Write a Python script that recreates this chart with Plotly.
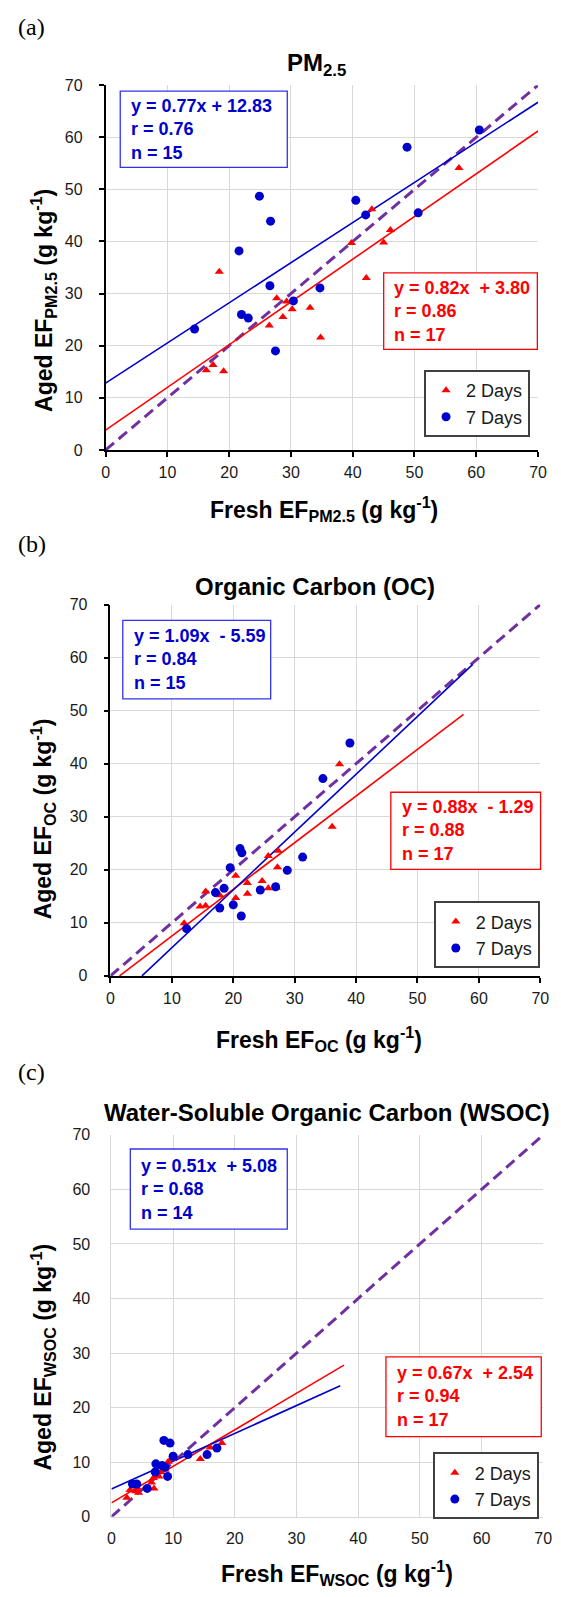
import plotly.graph_objects as go
import numpy as np

W, H = 561, 1597

# ---------------- data ----------------
# (a) PM2.5
pm_2d_x = [18.4, 16.3, 17.4, 19.1, 26.5, 27.7, 28.7, 29.3, 30.2, 33.1, 34.8, 39.8, 42.2, 43.1, 45.0, 46.1, 57.2]
pm_2d_y = [34.2, 15.3, 16.3, 15.1, 23.9, 29.1, 25.5, 28.5, 27.0, 27.3, 21.6, 39.7, 33.0, 46.2, 39.8, 42.2, 54.1]
pm_7d_x = [14.4, 21.6, 24.9, 26.7, 22.0, 23.1, 26.6, 27.5, 30.4, 34.7, 40.5, 42.1, 50.6, 48.8, 60.5]
pm_7d_y = [23.2, 38.2, 48.7, 43.9, 26.0, 25.3, 31.5, 19.0, 28.6, 31.1, 47.9, 45.1, 45.5, 58.1, 61.4]

# (b) OC
oc_2d_x = [12.0, 14.6, 15.5, 15.5, 17.8, 20.4, 20.4, 22.3, 22.3, 24.7, 25.7, 25.7, 27.2, 27.3, 36.1, 37.3, 27.0]
oc_2d_y = [9.9, 13.1, 15.9, 13.2, 15.2, 18.9, 14.7, 17.5, 15.5, 17.9, 16.5, 22.6, 20.5, 23.6, 28.1, 39.9, 16.6]
oc_7d_x = [12.4, 17.1, 17.8, 18.5, 19.5, 20.0, 21.1, 21.4, 21.3, 24.4, 26.9, 28.8, 31.3, 34.6, 39.0]
oc_7d_y = [8.9, 15.7, 12.8, 16.5, 20.4, 13.4, 24.0, 23.2, 11.3, 16.2, 16.8, 19.9, 22.4, 37.2, 43.9]

# (c) WSOC
ws_2d_x = [2.5, 3.9, 4.4, 4.2, 6.9, 6.8, 7.7, 8.0, 8.7, 9.2, 9.8, 10.3, 14.4, 16.0, 17.9, 6.5, 3.0]
ws_2d_y = [3.5, 4.7, 4.4, 5.3, 5.2, 7.1, 7.4, 8.2, 8.6, 10.1, 10.6, 11.0, 10.6, 12.7, 13.5, 6.3, 4.9]
ws_7d_x = [3.4, 4.1, 5.8, 7.2, 7.1, 8.2, 8.5, 9.5, 9.1, 10.0, 12.4, 15.5, 17.1, 8.7]
ws_7d_y = [6.0, 6.0, 5.2, 9.7, 8.2, 9.4, 14.0, 13.5, 7.4, 11.1, 11.4, 11.4, 12.6, 9.1]

# fits (slope, intercept, x extent)
fit2_slope = [0.82, 0.88, 0.67]
fit2_icpt = [3.80, -1.29, 2.54]
fit2_x0 = [0.0, 1.47, 0.0]
fit2_x1 = [70.0, 57.5, 37.7]
fit7_slope = [0.77, 1.09, 0.51]
fit7_icpt = [12.83, -5.59, 5.08]
fit7_x0 = [0.0, 5.13, 0.0]
fit7_x1 = [70.0, 59.0, 37.1]

eq7_text = ["y = 0.77x + 12.83<br>r = 0.76<br>n = 15",
            "y = 1.09x &nbsp;- 5.59<br>r = 0.84<br>n = 15",
            "y = 0.51x &nbsp;+ 5.08<br>r = 0.68<br>n = 14"]
eq2_text = ["y = 0.82x &nbsp;+ 3.80<br>r = 0.86<br>n = 17",
            "y = 0.88x &nbsp;- 1.29<br>r = 0.88<br>n = 17",
            "y = 0.67x &nbsp;+ 2.54<br>r = 0.94<br>n = 17"]

panel_tags = ["(a)", "(b)", "(c)"]
titles = ["<b>PM<sub>2.5</sub></b>", "<b>Organic Carbon (OC)</b>", "<b>Water-Soluble Organic Carbon (WSOC)</b>"]
subs = ["PM2.5", "OC", "WSOC"]
series_names = ["2 Days", "7 Days"]
ticks = [0, 10, 20, 30, 40, 50, 60, 70]

# ---------------- layout geometry (pixels) ----------------
plot_px = [  # x0, x1, ybottom, ytop
    (104, 546.7, 446.7, 78),
    (109, 549, 978.3, 603),
    (110, 552, 1525, 1139),
]
tag_y = [19, 542, 1075]
title_pos = [(320, 57), (318.5, 585), (331, 1116)]
xtitle_pos = [(327.7, 506.7), (322.7, 1041.7), (340.8, 1581.7)]
ytitle_pos = [(40, 296), (40, 820), (40, 1364)]
blue_box = [(119, 290, 84, 161), (121.6, 273, 619, 698.3), (129.3, 290, 1153.3, 1234.3)]
red_box = [(388.7, 546, 267.7, 345), (396, 549.3, 792.7, 870.7), (391, 550, 1363.3, 1444)]
legend_pos = [(430, 366), (440, 903), (439, 1460)]

RED = "#FF0000"
BLUE = "#0000CC"
PURPLE = "#7030A0"
FONT = "Liberation Sans, Arial, sans-serif"

def px(x):
    return x / W

def py(y):
    return 1 - y / H

fig = go.Figure()
data2 = [(pm_2d_x, pm_2d_y), (oc_2d_x, oc_2d_y), (ws_2d_x, ws_2d_y)]
data7 = [(pm_7d_x, pm_7d_y), (oc_7d_x, oc_7d_y), (ws_7d_x, ws_7d_y)]

shapes = []
annotations = []
for i in range(3):
    sfx = "" if i == 0 else str(i + 1)
    xa, ya = "x" + sfx, "y" + sfx
    leg = "legend" + sfx
    # 1:1 line
    fig.add_trace(go.Scatter(x=[0, 70], y=[0, 70], mode="lines", xaxis=xa, yaxis=ya,
                             line=dict(color=PURPLE, width=3, dash="11px,6px"), showlegend=False,
                             hoverinfo="skip"))
    # fits
    xf2 = np.array([fit2_x0[i], fit2_x1[i]])
    fig.add_trace(go.Scatter(x=xf2, y=fit2_slope[i] * xf2 + fit2_icpt[i], mode="lines", xaxis=xa, yaxis=ya,
                             line=dict(color=RED, width=1.6), showlegend=False))
    xf7 = np.array([fit7_x0[i], fit7_x1[i]])
    fig.add_trace(go.Scatter(x=xf7, y=fit7_slope[i] * xf7 + fit7_icpt[i], mode="lines", xaxis=xa, yaxis=ya,
                             line=dict(color=BLUE, width=1.6), showlegend=False))
    # markers
    fig.add_trace(go.Scatter(x=data2[i][0], y=data2[i][1], mode="markers", xaxis=xa, yaxis=ya,
                             name=series_names[0], legend=leg,
                             marker=dict(symbol="triangle-up", size=8, color=RED)))
    fig.add_trace(go.Scatter(x=data7[i][0], y=data7[i][1], mode="markers", xaxis=xa, yaxis=ya,
                             name=series_names[1], legend=leg,
                             marker=dict(symbol="circle", size=9, color=BLUE)))

    x0, x1, yb, yt = plot_px[i]
    axis_black = i < 2
    common = dict(range=[0, 70], tickvals=ticks, showgrid=True, gridcolor="#d9d9d9", gridwidth=1,
                  zeroline=False, showline=True,
                  linecolor="black" if axis_black else "#d9d9d9",
                  linewidth=1.5 if axis_black else 1,
                  ticks="outside" if axis_black else "", ticklen=5, tickwidth=1.5, tickcolor="black",
                  tickfont=dict(family=FONT, size=16, color="#1a1a1a"), fixedrange=True)
    fig.update_layout(**{
        "xaxis" + sfx: dict(common, domain=[px(x0), px(x1)], anchor=ya,
                            ticklabelstandoff=2 if axis_black else 7),
        "yaxis" + sfx: dict(common, domain=[py(yb), py(yt)], anchor=xa,
                            ticklabelstandoff=13 if axis_black else 17),
        leg: dict(x=px(legend_pos[i][0]), y=py(legend_pos[i][1]), xanchor="left", yanchor="top",
                  bgcolor="white", bordercolor="#404040", borderwidth=2,
                  font=dict(family=FONT, size=18, color="#1a1a1a"), tracegroupgap=0,
                  itemwidth=30),
    })

    # panel tag
    annotations.append(dict(text=panel_tags[i], x=px(12), y=py(tag_y[i]), xref="paper", yref="paper",
                            xanchor="left", yanchor="middle", showarrow=False,
                            font=dict(family="Liberation Serif, Times New Roman, serif", size=24, color="black")))
    # title
    annotations.append(dict(text=titles[i], x=px(title_pos[i][0]), y=py(title_pos[i][1]), xref="paper",
                            yref="paper", xanchor="center", yanchor="middle", showarrow=False,
                            font=dict(family=FONT, size=24, color="black")))
    # axis titles
    annotations.append(dict(text="<b>Fresh EF<sub>%s</sub> (g kg<sup>-1</sup>)</b>" % subs[i],
                            x=px(xtitle_pos[i][0]), y=py(xtitle_pos[i][1]), xref="paper", yref="paper",
                            xanchor="center", yanchor="middle", showarrow=False,
                            font=dict(family=FONT, size=23, color="black")))
    annotations.append(dict(text="<b>Aged EF<sub>%s</sub> (g kg<sup>-1</sup>)</b>" % subs[i],
                            x=px(ytitle_pos[i][0]), y=py(ytitle_pos[i][1]), xref="paper", yref="paper",
                            xanchor="center", yanchor="middle", showarrow=False, textangle=-90,
                            font=dict(family=FONT, size=23, color="black")))
    # equation boxes
    for box, txt, col, bcol in [(blue_box[i], eq7_text[i], BLUE, "#3333EE"), (red_box[i], eq2_text[i], RED, RED)]:
        bx0, bx1, by0, by1 = box
        shapes.append(dict(type="rect", xref="paper", yref="paper", x0=px(bx0), x1=px(bx1),
                           y0=py(by1), y1=py(by0), line=dict(color=bcol, width=1.3), fillcolor="white",
                           layer="above"))
        annotations.append(dict(text="<b>" + txt + "</b>", x=px(bx0 + 9), y=py((by0 + by1) / 2),
                                xref="paper", yref="paper", xanchor="left", yanchor="middle",
                                align="left", showarrow=False,
                                font=dict(family=FONT, size=18, color=col)))

fig.update_layout(width=W, height=H, autosize=False, margin=dict(l=0, r=0, t=0, b=0),
                  paper_bgcolor="white", plot_bgcolor="white",
                  shapes=shapes, annotations=annotations, hovermode=False)

fig.write_html("out.html", config={"displayModeBar": False},
               post_script="document.body.style.margin='0px';")
